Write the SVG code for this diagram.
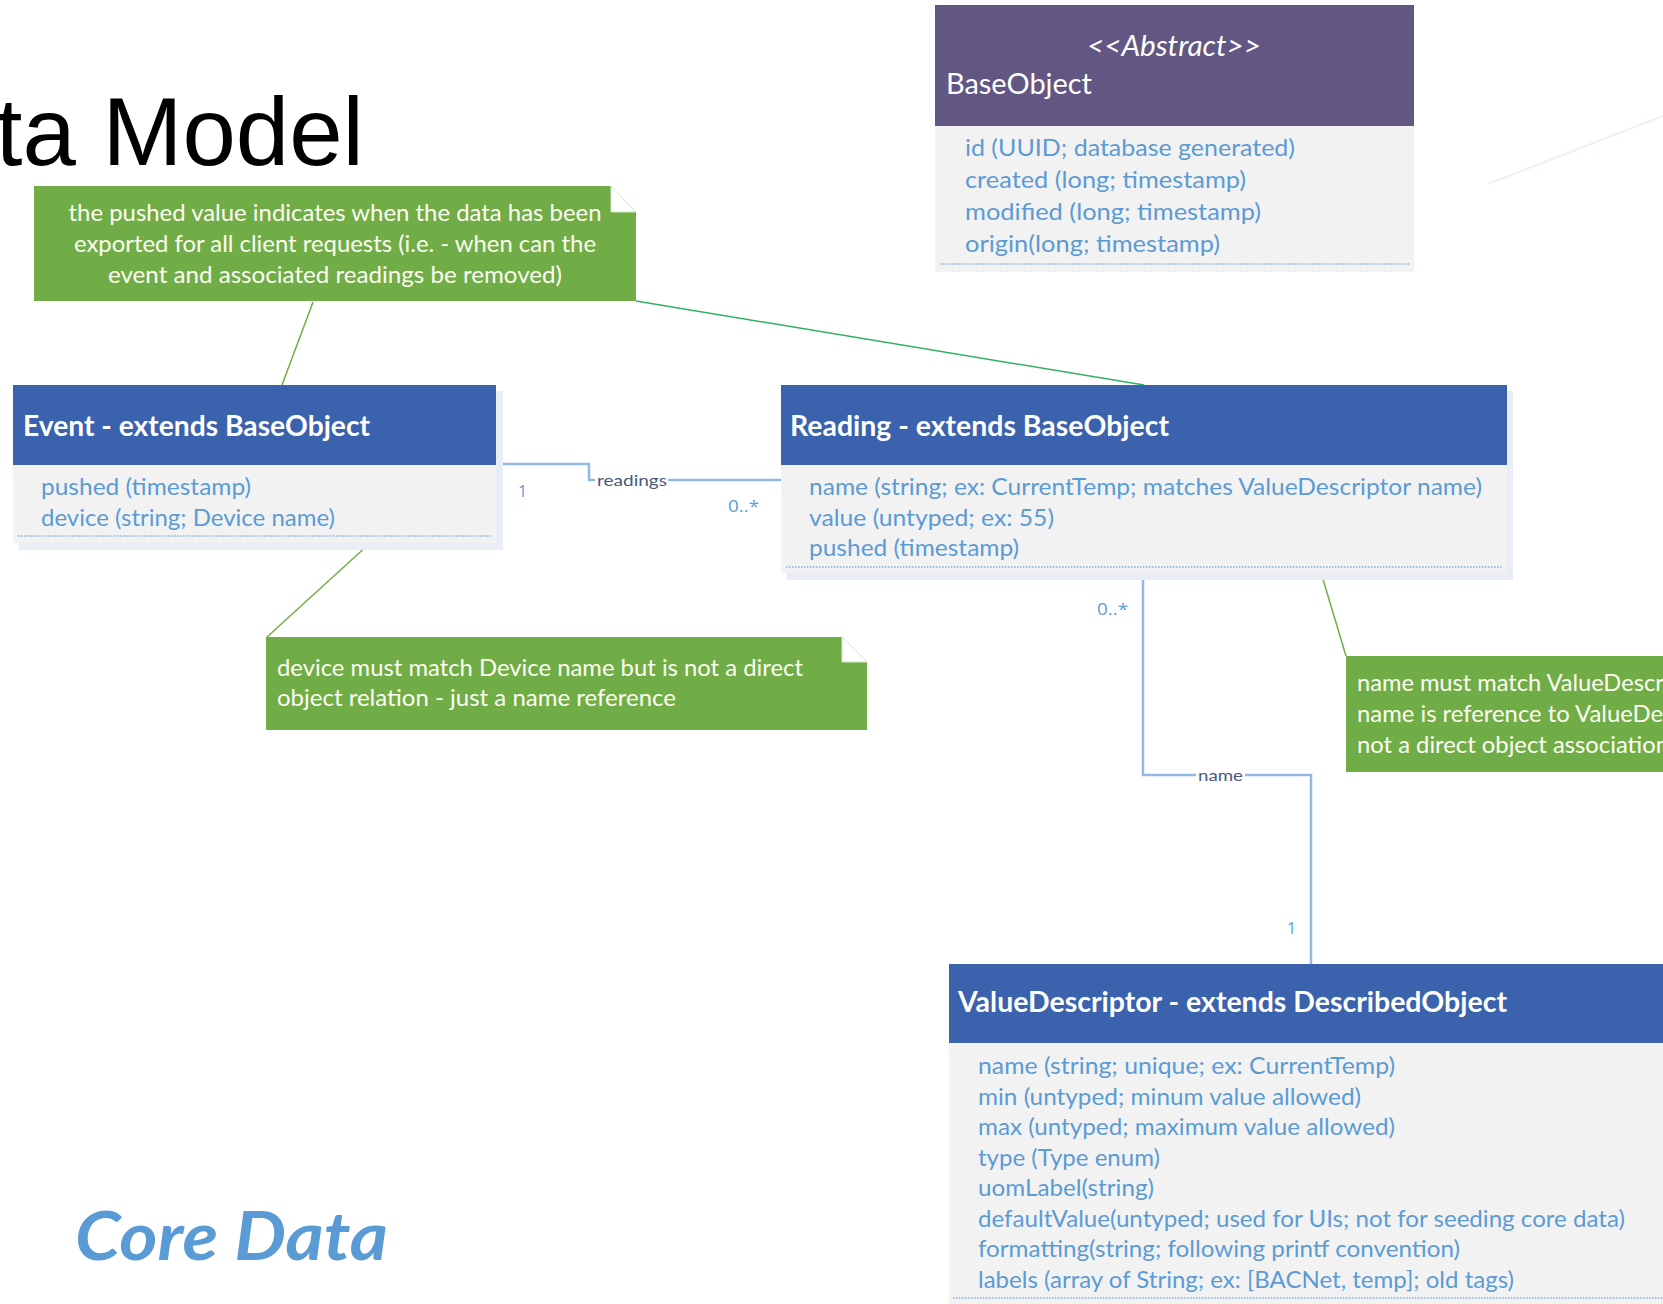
<svg xmlns="http://www.w3.org/2000/svg" width="1663" height="1304" viewBox="0 0 1663 1304">
  <style>
    .hdr { fill: #3A62AD; }
    .hdr-abs { fill: #625683; }
    .body { fill: #F2F2F2; }
    .shadow { fill: #E9EEF6; }
    .cls-title { font-family: Lato, "Open Sans", "Liberation Sans", sans-serif; font-weight: bold; font-size: 28px; fill: #FFFFFF; }
    .abs-title { font-family: Lato, "Open Sans", "Liberation Sans", sans-serif; font-size: 29px; fill: #FFFFFF; }
    .attr { font-family: Lato, "Open Sans", "Liberation Sans", sans-serif; font-size: 24px; fill: #5B9BD5; }
    .sep { stroke: #7FAEDD; stroke-width: 1.5; stroke-dasharray: 1.5 1.5; fill: none; }
    .note { fill: #70AD47; }
    .fold { fill: #FFFFFF; stroke: #CFE5C0; stroke-width: 1; }
    .note-t { font-family: Lato, "Open Sans", "Liberation Sans", sans-serif; font-size: 24px; fill: #FDFDF2; }
    .assoc { fill: none; stroke: #92B9E4; stroke-width: 2.5; }
    .anchor { fill: none; stroke: #70AD47; stroke-width: 1.5; }
    .anchor-teal { fill: none; stroke: #2EB06A; stroke-width: 1.5; }
    .lbl { font-family: Lato, "Open Sans", "Liberation Sans", sans-serif; font-size: 16px; fill: #4A5A78; }
    .mult { font-family: "Open Sans", Lato, "Liberation Sans", sans-serif; font-size: 16px; fill: #5B9BD5; }
  </style>

  <rect x="0" y="0" width="1663" height="1304" fill="#FFFFFF"/>

  <!-- page heading -->
  <text id="heading" x="-127" y="165" font-family="'Liberation Sans', Arial, sans-serif" font-size="96" fill="#000000">Data Model</text>

  <!-- faint guide line at top right -->
  <line x1="1488" y1="184" x2="1663" y2="116" stroke="#F6ECEE" stroke-width="2"/>

  <!-- connectors -->
  <g id="connectors">
    <!-- note anchors -->
    <line class="anchor" x1="313" y1="302" x2="282" y2="385"/>
    <line class="anchor-teal" x1="636" y1="301" x2="1144" y2="385"/>
    <line class="anchor" x1="369" y1="544" x2="267" y2="637"/>
    <line class="anchor" x1="1322" y1="576" x2="1346" y2="656"/>

    <!-- Event 1 - 0..* Reading -->
    <polyline class="assoc" points="496,464 589,464 589,480 595,480"/>
    <line class="assoc" x1="668" y1="480" x2="781" y2="480"/>
    <text class="lbl" x="597" y="486" textLength="70" lengthAdjust="spacingAndGlyphs">readings</text>
    <text class="mult" x="518" y="497">1</text>
    <text class="mult" x="728" y="512" textLength="31" lengthAdjust="spacingAndGlyphs">0..*</text>

    <!-- Reading 0..* - 1 ValueDescriptor -->
    <polyline class="assoc" points="1143,576 1143,775 1196,775"/>
    <polyline class="assoc" points="1245,775 1311,775 1311,964"/>
    <text class="lbl" x="1198" y="781" textLength="45" lengthAdjust="spacingAndGlyphs">name</text>
    <text class="mult" x="1097" y="615" textLength="31" lengthAdjust="spacingAndGlyphs">0..*</text>
    <text class="mult" x="1287" y="934">1</text>
  </g>

  <!-- BaseObject (abstract) -->
  <g id="base-object">
    <rect class="hdr-abs" x="935" y="5" width="479" height="121"/>
    <rect class="body" x="935" y="126" width="479" height="146"/>
    <text class="abs-title" x="1174" y="56" text-anchor="middle" font-style="italic" textLength="174" lengthAdjust="spacingAndGlyphs">&lt;&lt;Abstract&gt;&gt;</text>
    <text class="abs-title" x="946" y="94" textLength="146" lengthAdjust="spacingAndGlyphs">BaseObject</text>
    <text class="attr" x="965" y="156" textLength="330" lengthAdjust="spacingAndGlyphs">id (UUID; database generated)</text>
    <text class="attr" x="965" y="188" textLength="281" lengthAdjust="spacingAndGlyphs">created (long; timestamp)</text>
    <text class="attr" x="965" y="220" textLength="296" lengthAdjust="spacingAndGlyphs">modified (long; timestamp)</text>
    <text class="attr" x="965" y="252" textLength="255" lengthAdjust="spacingAndGlyphs">origin(long; timestamp)</text>
    <line class="sep" x1="940" y1="264" x2="1409" y2="264"/>
  </g>

  <!-- note: pushed value -->
  <g id="note-pushed">
    <path class="note" d="M34,186 H611 V212 H636 V301 H34 Z"/>
    <path class="fold" d="M611,186 L636,212 H611 Z"/>
    <text class="note-t" x="335" y="221" text-anchor="middle" textLength="533" lengthAdjust="spacingAndGlyphs">the pushed value indicates when the data has been</text>
    <text class="note-t" x="335" y="252" text-anchor="middle" textLength="522" lengthAdjust="spacingAndGlyphs">exported for all client requests (i.e. - when can the</text>
    <text class="note-t" x="335" y="283" text-anchor="middle" textLength="454" lengthAdjust="spacingAndGlyphs">event and associated readings be removed)</text>
  </g>

  <!-- Event -->
  <g id="event">
    <rect class="shadow" x="19" y="391" width="484" height="159"/>
    <rect class="hdr" x="13" y="385" width="483" height="80"/>
    <rect class="body" x="13" y="465" width="483" height="78"/>
    <text class="cls-title" x="23" y="436" textLength="347" lengthAdjust="spacingAndGlyphs">Event - extends BaseObject</text>
    <text class="attr" x="41" y="495" textLength="210" lengthAdjust="spacingAndGlyphs">pushed (timestamp)</text>
    <text class="attr" x="41" y="526" textLength="294" lengthAdjust="spacingAndGlyphs">device (string; Device name)</text>
    <line class="sep" x1="18" y1="536" x2="491" y2="536"/>
  </g>

  <!-- Reading -->
  <g id="reading">
    <rect class="shadow" x="787" y="391" width="726" height="189"/>
    <rect class="hdr" x="781" y="385" width="726" height="80"/>
    <rect class="body" x="781" y="465" width="726" height="108"/>
    <text class="cls-title" x="790" y="436" textLength="379" lengthAdjust="spacingAndGlyphs">Reading - extends BaseObject</text>
    <text class="attr" x="809" y="495" textLength="673" lengthAdjust="spacingAndGlyphs">name (string; ex:  CurrentTemp; matches ValueDescriptor name)</text>
    <text class="attr" x="809" y="526" textLength="245" lengthAdjust="spacingAndGlyphs">value (untyped; ex:  55)</text>
    <text class="attr" x="809" y="556" textLength="210" lengthAdjust="spacingAndGlyphs">pushed (timestamp)</text>
    <line class="sep" x1="786" y1="567" x2="1502" y2="567"/>
  </g>

  <!-- note: device reference -->
  <g id="note-device">
    <path class="note" d="M266,637 H842 V662 H867 V730 H266 Z"/>
    <path class="fold" d="M842,637 L867,662 H842 Z"/>
    <text class="note-t" x="277" y="676" textLength="526" lengthAdjust="spacingAndGlyphs">device must match Device name but is not a direct</text>
    <text class="note-t" x="277" y="706" textLength="399" lengthAdjust="spacingAndGlyphs">object relation - just a name reference</text>
  </g>

  <!-- note: value descriptor reference -->
  <g id="note-name">
    <rect class="note" x="1346" y="656" width="330" height="116"/>
    <text class="note-t" x="1357" y="691" textLength="356" lengthAdjust="spacingAndGlyphs">name must match ValueDescriptor</text>
    <text class="note-t" x="1357" y="722" textLength="386" lengthAdjust="spacingAndGlyphs">name is reference to ValueDescriptor</text>
    <text class="note-t" x="1357" y="753" textLength="312" lengthAdjust="spacingAndGlyphs">not a direct object association</text>
  </g>

  <!-- ValueDescriptor -->
  <g id="value-descriptor">
    <rect class="hdr" x="949" y="964" width="720" height="79"/>
    <rect class="body" x="949" y="1043" width="720" height="270"/>
    <text class="cls-title" x="958" y="1012" textLength="549" lengthAdjust="spacingAndGlyphs">ValueDescriptor - extends DescribedObject</text>
    <text class="attr" x="978" y="1074" textLength="417" lengthAdjust="spacingAndGlyphs">name (string; unique; ex:  CurrentTemp)</text>
    <text class="attr" x="978" y="1105" textLength="383" lengthAdjust="spacingAndGlyphs">min (untyped; minum value allowed)</text>
    <text class="attr" x="978" y="1135" textLength="417" lengthAdjust="spacingAndGlyphs">max (untyped; maximum value allowed)</text>
    <text class="attr" x="978" y="1166" textLength="182" lengthAdjust="spacingAndGlyphs">type (Type enum)</text>
    <text class="attr" x="978" y="1196" textLength="176" lengthAdjust="spacingAndGlyphs">uomLabel(string)</text>
    <text class="attr" x="978" y="1227" textLength="647" lengthAdjust="spacingAndGlyphs">defaultValue(untyped; used for UIs; not for seeding core data)</text>
    <text class="attr" x="978" y="1257" textLength="482" lengthAdjust="spacingAndGlyphs">formatting(string; following printf convention)</text>
    <text class="attr" x="978" y="1288" textLength="536" lengthAdjust="spacingAndGlyphs">labels (array of String; ex: [BACNet, temp]; old tags)</text>
    <line class="sep" x1="953" y1="1298" x2="1663" y2="1298"/>
  </g>

  <!-- section caption -->
  <text id="caption" x="75" y="1260" font-family="Lato, 'Open Sans', 'Liberation Sans', sans-serif" font-weight="bold" font-style="italic" font-size="66" fill="#5B9BD5" textLength="313" lengthAdjust="spacingAndGlyphs">Core Data</text>
</svg>
